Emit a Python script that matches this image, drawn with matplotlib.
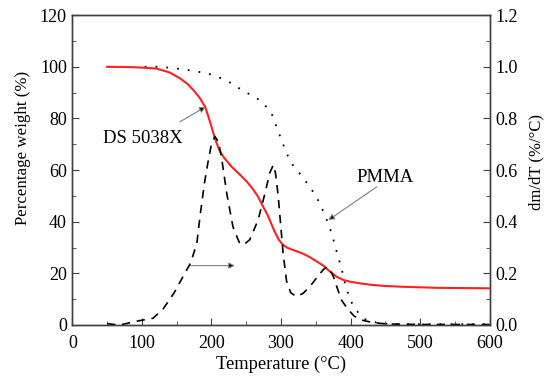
import matplotlib
matplotlib.use("Agg")
import matplotlib.pyplot as plt
from matplotlib.ticker import MultipleLocator, FormatStrFormatter

# TGA of DS 5038X (percentage weight)
ds_temp = [50, 80, 100, 121, 140, 155, 165, 174, 183, 191, 198, 205, 211, 217, 229,
           240, 251, 260, 267, 275, 281, 291, 297, 303, 310, 318, 332, 342, 352, 361,
           370, 380, 390, 399, 414, 428, 450, 476, 524, 600]
ds_weight = [100, 99.9, 99.7, 99.3, 97.8, 95.5, 93.5, 91, 88, 84.5, 78.7, 72.3, 68, 65.2, 61.3,
             58.5, 55.5, 52.5, 49.7, 45.5, 42.5, 36.1, 33, 31, 29.8, 29, 27.6, 26.2, 24.5, 23.0,
             20.8, 18.7, 17.4, 16.8, 16.1, 15.6, 15.1, 14.8, 14.4, 14.2]

# TGA of PMMA (percentage weight)
pmma_temp = [104, 126, 145, 170, 195, 220, 241, 257, 270, 279, 287, 296, 308, 317, 327,
             340, 351, 360, 366, 373, 380, 387, 394, 402, 409, 416, 423, 442, 470, 600]
pmma_weight = [100, 100, 99.5, 98.6, 97.4, 95, 91.5, 89, 87, 84.5, 81.5, 75, 66.5, 62, 58.7,
               54, 49.7, 44.5, 40.6, 35.5, 28.5, 22, 14, 8.5, 5.5, 3.2, 1.9, 0.6, 0.3, 0.3]

# DTG of DS 5038X (dm/dT, %/°C)
dtg_temp = [50, 68, 97, 116, 131, 146, 159, 170, 179, 184, 190, 195, 200, 205, 210, 215,
            222, 231, 240, 246, 255, 267, 277, 284, 289, 292, 296, 303, 308, 314, 322, 332,
            342, 352, 361, 366, 370, 375, 380, 387, 395, 405, 414, 433, 452, 500, 600]
dtg_value = [0.005, 0.0, 0.017, 0.026, 0.064, 0.123, 0.187, 0.24, 0.316, 0.43, 0.55, 0.63,
             0.70, 0.73, 0.71, 0.64, 0.51, 0.38, 0.32, 0.31, 0.33, 0.406, 0.51, 0.59, 0.62,
             0.59, 0.50, 0.28, 0.17, 0.125, 0.11, 0.123, 0.15, 0.185, 0.215, 0.225, 0.215,
             0.19, 0.15, 0.097, 0.065, 0.035, 0.02, 0.009, 0.004, 0.002, 0.002]

plt.rcParams['font.family'] = ['Liberation Serif', 'DejaVu Serif']
plt.rcParams['font.size'] = 13

fig = plt.figure(figsize=(5.44, 3.79), dpi=100)
ax = fig.add_axes([0.133, 0.1425, 0.767, 0.8175])
ax2 = ax.twinx()

spine_c = '#404040'
ax.plot(ds_temp, ds_weight, color='#ff2020', lw=1.5, zorder=3)
ax.plot(pmma_temp, pmma_weight, color='black', lw=1.3, linestyle=(0, (1, 5)), zorder=2)
ax2.plot(dtg_temp, dtg_value, color='black', lw=1.2, linestyle=(0, (5, 4)), zorder=2)

ax.set_xlim(0, 600)
ax.set_ylim(0, 120)
ax2.set_ylim(0, 1.2)

ax.xaxis.set_major_locator(MultipleLocator(100))
ax.xaxis.set_minor_locator(MultipleLocator(50))
ax.yaxis.set_major_locator(MultipleLocator(20))
ax.yaxis.set_minor_locator(MultipleLocator(10))
ax2.yaxis.set_major_locator(MultipleLocator(0.2))
ax2.yaxis.set_minor_locator(MultipleLocator(0.1))
ax2.yaxis.set_major_formatter(FormatStrFormatter('%.1f'))

for a in (ax, ax2):
    for s in a.spines.values():
        s.set_color(spine_c)
        s.set_linewidth(1.0)
ax.tick_params(which='both', direction='in', color=spine_c, top=False, right=False, labelsize=13)
ax.tick_params(axis='x', which='both', pad=7)
ax.tick_params(axis='y', which='both', pad=4)
ax.tick_params(which='major', length=5)
ax.tick_params(which='minor', length=3)
ax2.tick_params(which='both', direction='in', color=spine_c, labelsize=13, pad=4)
ax2.tick_params(which='major', length=5)
ax2.tick_params(which='minor', length=3)

ax.set_xlabel('Temperature (°C)', fontsize=13.3)
ax.xaxis.set_label_coords(0.5, -0.1)
ax.set_ylabel('Percentage weight (%)', fontsize=12.2)
ax.yaxis.set_label_coords(-0.099, 0.571)
ax2.set_ylabel('dm/dT (%/°C)', fontsize=12, rotation=90)
ax2.yaxis.set_label_coords(1.094, 0.527)

arrow = dict(arrowstyle='-|>', ec='#808080', fc='black', lw=0.8, mutation_scale=9,
             shrinkA=0, shrinkB=0)
ax.annotate('', xy=(191.6, 84.5), xytext=(154.7, 78.7), arrowprops=arrow)
ax.text(101.4, 72.4, 'DS 5038X', ha='center', va='center', fontsize=13.5)
ax.annotate('', xy=(368, 40.6), xytext=(437.7, 53.5), arrowprops=arrow)
ax.text(450, 57, 'PMMA', ha='center', va='center', fontsize=13.5)
ax.annotate('', xy=(233.8, 23), xytext=(169, 23), arrowprops=arrow)

fig.savefig('out.png', dpi=100)
